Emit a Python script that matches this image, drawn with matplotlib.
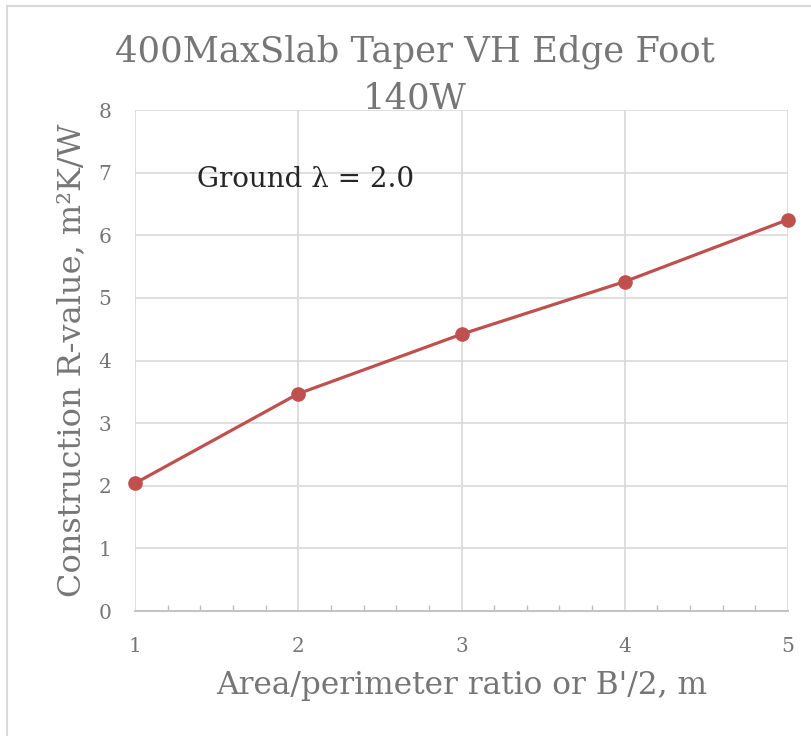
import numpy as np
import matplotlib.pyplot as plt
from matplotlib.patches import Rectangle
from matplotlib.ticker import MultipleLocator

# B'/2 ratio vs construction R-value
ratio = [1, 2, 3, 4, 5]
r_value = [2.04, 3.47, 4.42, 5.26, 6.25]

plt.rcParams['font.family'] = ['DejaVu Serif']
grey = '#767676'

fig = plt.figure(figsize=(8.12, 7.36), dpi=100)
ax = fig.add_axes([0.1663, 0.1698, 0.8041, 0.6807])

ax.plot(ratio, r_value, color='#C0504D', lw=2.3, marker='o', ms=9.5, zorder=3,
        clip_on=False)

ax.set_xlim(1, 5)
ax.set_ylim(0, 8)
ax.xaxis.set_major_locator(MultipleLocator(1))
ax.xaxis.set_minor_locator(MultipleLocator(0.2))
ax.yaxis.set_major_locator(MultipleLocator(1))
ax.grid(True, which='major', color='#D9D9D9', lw=1.2)
ax.set_axisbelow(True)
for s in ['top', 'right', 'left']:
    ax.spines[s].set_visible(False)
ax.spines['bottom'].set_color('#BFBFBF')
ax.spines['bottom'].set_linewidth(1.3)

ax.tick_params(axis='x', which='major', length=0, pad=19, labelsize=14.5, labelcolor=grey)
ax.tick_params(axis='x', which='minor', direction='in', length=4, color='#BFBFBF', width=1)
ax.tick_params(axis='y', which='major', length=0, pad=17, labelsize=14.5, labelcolor=grey)

ax.set_xlabel("Area/perimeter ratio or B'/2, m", fontsize=22.5, color=grey, labelpad=10)
ax.set_ylabel('Construction R-value, m²K/W', fontsize=23, color=grey, labelpad=8)

fig.text(0.511, 0.930, '400MaxSlab Taper VH Edge Foot', ha='center', va='center',
         fontsize=25.5, color=grey)
fig.text(0.511, 0.866, '140W', ha='center', va='center', fontsize=25.5, color=grey)

ax.text(0.095, 0.862, 'Ground λ = 2.0', transform=ax.transAxes, ha='left', va='center',
        fontsize=20, color='#262626')

fig.patches.append(Rectangle((7 / 812, -0.1), 1.2, 1 - 6 / 736 + 0.1, transform=fig.transFigure,
                             fill=False, edgecolor='#D9D9D9', lw=1.5))

fig.savefig('out.png', dpi=100)
